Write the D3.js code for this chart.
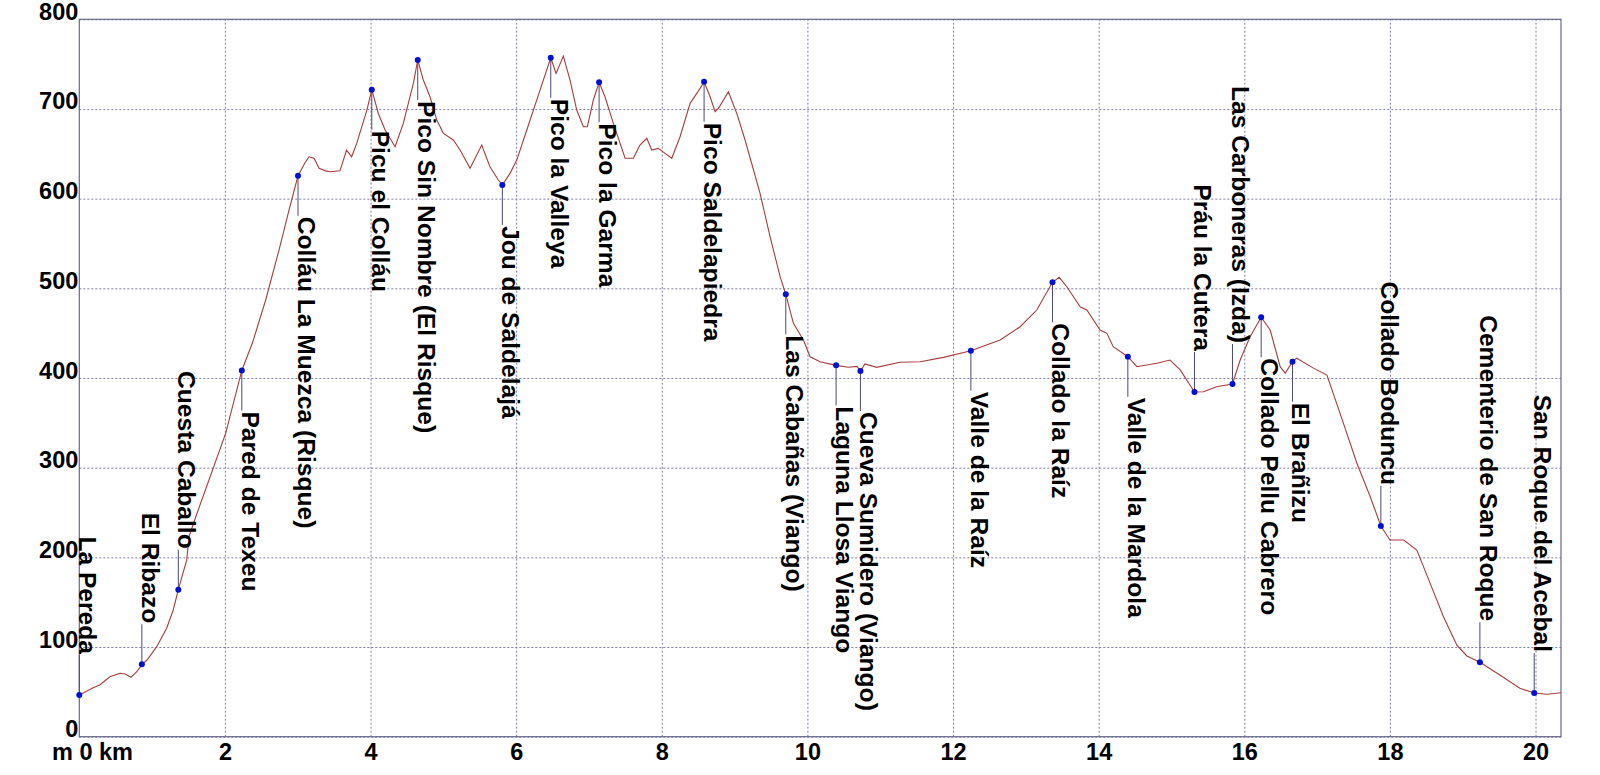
<!DOCTYPE html>
<html>
<head>
<meta charset="utf-8">
<script src="https://cdn.jsdelivr.net/npm/d3@7"></script>
<style>
  html, body { margin: 0; padding: 0; background: #ffffff; }
  svg { display: block; }
</style>
</head>
<body>
<svg id="chart" width="1600" height="775"></svg>
<script>
// ---------- DATA ----------
// Elevation profile: distance (km) and elevation (m)
const profileKm = [
  0, 0.19, 0.28, 0.42, 0.56, 0.63, 0.71, 0.79, 0.865, 0.93, 1.063, 1.2, 1.29, 1.36, 1.475, 1.507, 1.6, 1.83, 2.01, 2.232,
  2.376, 2.56, 2.743, 2.88, 3.004, 3.1, 3.155, 3.224, 3.293, 3.385, 3.44, 3.58, 3.67, 3.74, 3.81, 3.95, 4.017, 4.107, 4.2, 4.337,
  4.45, 4.588, 4.648, 4.725, 4.817, 4.91, 5.0, 5.137, 5.23, 5.367, 5.527, 5.64, 5.755, 5.81, 5.916, 6.008, 6.146, 6.328, 6.475, 6.548,
  6.648, 6.74, 6.832, 6.923, 6.978, 7.06, 7.139, 7.22, 7.335, 7.496, 7.61, 7.7, 7.794, 7.862, 7.953, 8.045, 8.137, 8.251, 8.389, 8.526,
  8.581, 8.664, 8.732, 8.778, 8.915, 9.03, 9.144, 9.35, 9.488, 9.625, 9.703, 9.808, 9.945, 10.037, 10.174, 10.394, 10.56, 10.68, 10.728, 10.79,
  10.95, 11.27, 11.55, 11.87, 12.245, 12.647, 12.922, 13.15, 13.366, 13.458, 13.563, 13.654, 13.746, 13.838, 14.02, 14.113, 14.2, 14.401, 14.525, 14.8,
  14.98, 15.12, 15.316, 15.44, 15.62, 15.838, 15.944, 16.08, 16.232, 16.356, 16.493, 16.562, 16.662, 16.72, 16.95, 17.135, 17.318, 17.547, 17.73, 17.876,
  18.0, 18.19, 18.37, 18.553, 18.736, 18.92, 19.057, 19.236, 19.51, 19.785, 19.982, 20.16, 20.35
];
const profileElev = [
  46.5, 54.6, 57.6, 66.9, 70.7, 69.9, 66.2, 72.5, 81, 85.5, 100.4, 120.9, 141.3, 163.9, 197, 223, 245.3, 297.4, 338.3, 408.4,
  438.7, 487, 542.7, 587.3, 625.5, 640, 646.7, 645, 633.8, 631, 630, 631, 654, 646.7, 661.7, 698.8, 721.5, 695, 676.5, 657.9,
  684, 728.6, 754.6, 732.3, 713.6, 687.6, 672.8, 665.4, 654.2, 633.8, 659.8, 635.6, 620.8, 615.2, 628.2, 643, 676.5, 721.1, 757.1, 739.7,
  759, 732.3, 698.8, 680.2, 680.2, 710, 729.7, 713.6, 684, 645, 645, 659.8, 667.3, 654.2, 656, 650.5, 645, 669, 706.3, 723,
  730.4, 713.6, 697, 700.7, 719.2, 695, 665.4, 606, 557.5, 513, 493.3, 461, 442.3, 423.7, 418.2, 414.1, 412, 413, 407.8, 415.6,
  411.9, 417.5, 418.2, 423, 430.4, 442.3, 457.2, 475.8, 506.7, 512.3, 501.8, 490.6, 479.5, 475.8, 453.5, 449.8, 434.9, 423.7, 412.6, 416.4,
  420, 409, 384.4, 384.7, 390.3, 393.3, 420, 446, 467.7, 453.5, 412.6, 405.2, 418.2, 422, 411, 403.3, 360, 304.9, 267.6, 235,
  219.3, 219.3, 208.2, 171, 133.8, 102, 90, 83, 68.8, 54, 48.7, 47.3, 49
];

// Waypoints
const wpNames = [
  "La Pereda", "El Ribazo", "Cuesta Caballo", "Pared de Texeu", "Colláu La Muezca (Risque)",
  "Picu el Colláu", "Pico Sin Nombre (El Risque)", "Jou de Saldelajá", "Pico la Valleya", "Pico la Garma",
  "Pico Saldelapiedra", "Las Cabañas (Viango)", "Laguna Llosa Viango", "Cueva Sumidero (Viango)", "Valle de la Raíz",
  "Collado la Raíz", "Valle de la Mardola", "Práu la Cutera", "Las Carboneras (Izda)", "Collado Pellu Cabrero",
  "El Brañizu", "Collado Boduncu", "Cementerio de San Roque", "San Roque del Acebal"
];
const wpKm = [
  0, 0.859, 1.36, 2.232, 3.004,
  4.017, 4.648, 5.81, 6.475, 7.139,
  8.581, 9.703, 10.394, 10.728, 12.245,
  13.366, 14.401, 15.316, 15.838, 16.232,
  16.662, 17.876, 19.236, 19.982
];
const wpElev = [
  46.5, 80.7, 163.9, 408.4, 625.5,
  721.5, 754.6, 615.2, 757.1, 729.7,
  730.4, 493.3, 414.1, 407.8, 430.4,
  506.7, 423.7, 384.4, 393.3, 467.7,
  418.2, 235, 83, 48.7
];
// label side: "up" = label above the point, "down" = label below
const wpSide = [
  "up", "up", "up", "down", "down",
  "down", "down", "down", "down", "down",
  "down", "down", "down", "down", "down",
  "down", "down", "up", "up", "down",
  "down", "up", "up", "up"
];

// Axis ticks
const xTicks = [2, 4, 6, 8, 10, 12, 14, 16, 18, 20];
const yTicks = [0, 100, 200, 300, 400, 500, 600, 700, 800];
const xStartLabel = "m 0 km";

// ---------- DRAW ----------
const svg = d3.select("#chart");
const pLeft = 79.3, pRight = 1561, pTop = 19.3, pBottom = 736.7;

const x = d3.scaleLinear().domain([0, 20.35]).range([pLeft, pRight]);
const y = d3.scaleLinear().domain([0, 800]).range([pBottom, pTop]);

const font = "'Liberation Sans', Arial, sans-serif";
const gridColor = "#7c7ca0";
const frameColor = "#66668a";

// grid + y axis
const yAxis = d3.axisLeft(y).tickValues(yTicks).tickSize(-(pRight - pLeft)).tickPadding(1).tickFormat(d3.format("d"));
const gy = svg.append("g").attr("transform", `translate(${pLeft},0)`).call(yAxis);
gy.select(".domain").remove();
gy.selectAll(".tick line")
  .attr("stroke", gridColor).attr("stroke-width", 1).attr("stroke-dasharray", "2,2");
gy.selectAll(".tick text")
  .attr("dy", "0").attr("x", -1)
  .style("font-family", font).style("font-size", "23.5px").style("font-weight", "bold").attr("fill", "#000");

const xAxis = d3.axisBottom(x).tickValues(xTicks).tickSize(-(pBottom - pTop)).tickPadding(0).tickFormat(d3.format("d"));
const gx = svg.append("g").attr("transform", `translate(0,${pBottom})`).call(xAxis);
gx.select(".domain").remove();
gx.selectAll(".tick line")
  .attr("stroke", gridColor).attr("stroke-width", 1).attr("stroke-dasharray", "2,2");
gx.selectAll(".tick text")
  .attr("y", 23.5).attr("dy", "0")
  .style("font-family", font).style("font-size", "23.5px").style("font-weight", "bold").attr("fill", "#000");

svg.append("text")
  .attr("x", 52).attr("y", pBottom + 23.5)
  .style("font-family", font).style("font-size", "23.5px").style("font-weight", "bold")
  .attr("fill", "#000").text(xStartLabel);

// frame
svg.append("rect")
  .attr("x", pLeft).attr("y", pTop).attr("width", pRight - pLeft).attr("height", pBottom - pTop)
  .attr("fill", "none").attr("stroke", frameColor).attr("stroke-width", 1.2);

// profile line
const line = d3.line().x((d, i) => x(profileKm[i])).y((d, i) => y(profileElev[i]));
svg.append("path")
  .datum(profileKm)
  .attr("d", line)
  .attr("fill", "none").attr("stroke", "#a83c3c").attr("stroke-width", 1.1);

// waypoints
const lead = 40;
const wps = wpNames.map((n, i) => ({ name: n, km: wpKm[i], elev: wpElev[i], side: wpSide[i] }));
const g = svg.append("g");
wps.forEach(d => {
  const px = x(d.km), py = y(d.elev);
  const ey = d.side === "up" ? py - lead : py + lead;
  g.append("line")
    .attr("x1", px).attr("x2", px).attr("y1", py).attr("y2", ey)
    .attr("stroke", "#4a4a78").attr("stroke-width", 1);
  const ty = d.side === "up" ? ey - 1 : ey + 1;
  g.append("text")
    .attr("transform", `translate(${px},${ty}) rotate(90)`)
    .attr("text-anchor", d.side === "up" ? "end" : "start")
    .style("font-family", font).style("font-size", "24.6px").style("font-weight", "bold")
    .attr("fill", "#000").text(d.name);
});
wps.forEach(d => {
  g.append("circle").attr("cx", x(d.km)).attr("cy", y(d.elev)).attr("r", 3).attr("fill", "#0010d0");
});
</script>
</body>
</html>
